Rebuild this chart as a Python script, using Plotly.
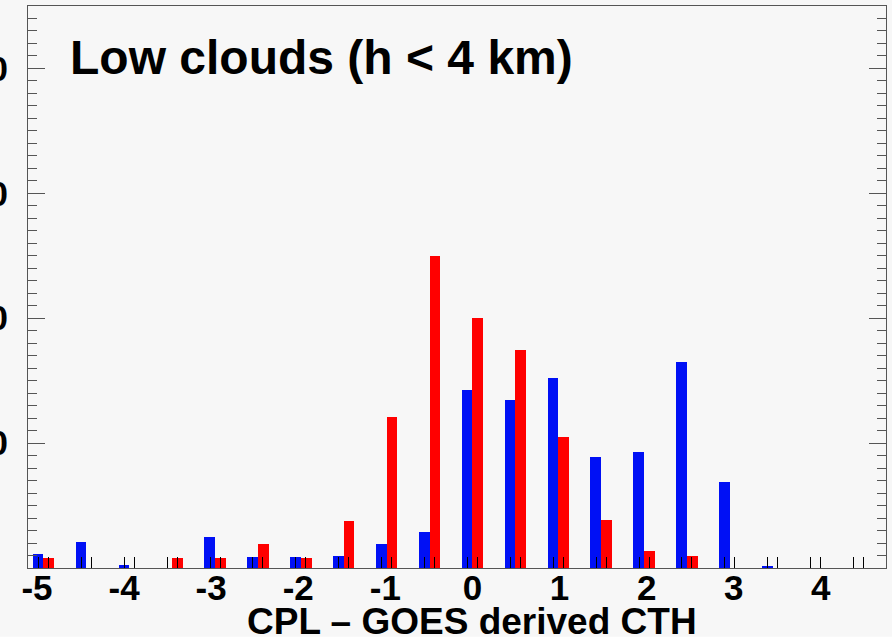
import plotly.graph_objects as go

# ---- data (percent of cases per 0.5 km bin) ----
bin_centers = [-5.0, -4.5, -4.0, -3.5, -3.0, -2.5, -2.0, -1.5, -1.0, -0.5,
               0.0, 0.5, 1.0, 1.5, 2.0, 2.5, 3.0, 3.5, 4.0, 4.5]
blue_pct = [1.12, 2.05, 0.26, 0.0, 2.48, 0.88, 0.88, 0.98, 1.94, 2.88,
            14.22, 13.46, 15.18, 8.9, 9.32, 16.46, 6.86, 0.13, 0.0, 0.0]
red_pct = [0.8, 0.0, 0.0, 0.8, 0.8, 1.94, 0.8, 3.73, 12.1, 25.0,
           19.98, 17.42, 10.5, 3.88, 1.38, 0.98, 0.0, 0.0, 0.0, 0.0]
x_tick_vals = [-5, -4, -3, -2, -1, 0, 1, 2, 3, 4]
x_tick_text = ["-5", "-4", "-3", "-2", "-1", "0", "1", "2", "3", "4"]
y_tick_vals = [10, 20, 30, 40]
y_tick_text = ["10", "20", "30", "40"]
title_text = "Low clouds (h &lt; 4 km)"
x_title = "CPL \u2013 GOES derived CTH"

BW = 0.125
LABEL_STRETCH = 1.015   # the original axis labels sit on a slightly wider scale
FONT = "Liberation Sans, Arial, Helvetica, sans-serif"
BG = "#f7f7f7"
FRAME = "#555555"

fig = go.Figure()
fig.add_trace(go.Bar(x=bin_centers, y=blue_pct, width=BW, offset=-BW,
                     marker=dict(color="#0010f5", line=dict(width=0)),
                     name="blue", showlegend=False))
fig.add_trace(go.Bar(x=bin_centers, y=red_pct, width=BW, offset=0,
                     marker=dict(color="#ff0000", line=dict(width=0)),
                     name="red", showlegend=False))

pair_ticks = []
for c in bin_centers:
    pair_ticks += [c - 0.058, c + 0.058]

fig.update_layout(
    width=892, height=642,
    margin=dict(l=28, r=6, t=6, b=74),
    paper_bgcolor=BG, plot_bgcolor=BG,
    barmode="overlay", bargap=0,
    font=dict(family=FONT, color="black"),
    xaxis=dict(
        range=[-5.18, 4.82], tickmode="array",
        tickvals=[v * LABEL_STRETCH for v in x_tick_vals],
        ticktext=x_tick_text, ticks="", showgrid=False, zeroline=False,
        showline=True, linecolor=FRAME, linewidth=1, mirror=True,
        automargin=False,
        tickfont=dict(size=35, weight="bold", family=FONT, color="black"),
        ticklabelstandoff=-11,
        minor=dict(tickmode="array", tickvals=pair_ticks, ticks="inside",
                   ticklen=11, tickcolor="black", tickwidth=1, showgrid=False),
    ),
    yaxis=dict(
        range=[0, 45], tickmode="array", tickvals=y_tick_vals,
        ticktext=y_tick_text, ticks="inside", ticklen=17, tickcolor=FRAME,
        tickwidth=1, showgrid=False, zeroline=False,
        showline=True, linecolor=FRAME, linewidth=1, mirror="ticks",
        automargin=False,
        tickfont=dict(size=35, weight="bold", family=FONT, color="black"),
        ticklabelstandoff=12,
        minor=dict(tickmode="linear", tick0=0, dtick=1, ticks="inside",
                   ticklen=9, tickcolor=FRAME, tickwidth=1, showgrid=False),
    ),
    annotations=[
        dict(text=title_text, xref="paper", yref="paper", x=0.047, y=0.909,
             xanchor="left", yanchor="middle", showarrow=False,
             font=dict(size=48, weight="bold", family=FONT, color="black")),
        dict(text=x_title, xref="paper", yref="paper", x=0.518, y=-0.096,
             xanchor="center", yanchor="middle", showarrow=False,
             font=dict(size=37, weight="bold", family=FONT, color="black")),
    ],
    shapes=[
        dict(type="rect", xref="paper", yref="paper", x0=-0.04, x1=1.02,
             y0=-0.1225, y1=-0.14, fillcolor="white", line=dict(width=0),
             layer="below"),
    ],
)

fig.write_html("out.html")
